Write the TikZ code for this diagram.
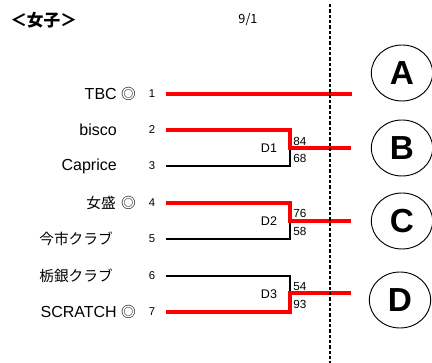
\documentclass[tikz,border=0pt]{standalone}
\usepackage{fontspec}
\setmainfont{Liberation Sans}
\newfontfamily\jpfont{Noto Sans CJK JP}
\usetikzlibrary{shapes.geometric}

\tikzset{
  team/.style={anchor=east, inner sep=0pt, font=\fontsize{12}{14}\selectfont},
  jteam/.style={anchor=east, inner sep=0pt, font=\jpfont\fontsize{11}{13}\selectfont},
  dmark/.style={inner sep=0pt, font=\jpfont\fontsize{11}{13}\selectfont},
  num/.style={inner sep=0pt, font=\fontsize{8.5}{10}\selectfont},
  score/.style={anchor=west, inner sep=0pt, font=\fontsize{8.8}{10}\selectfont},
  game/.style={inner sep=0pt, font=\fontsize{9.4}{11}\selectfont},
  seed/.style={draw, ellipse, line width=0.7pt, minimum width=46pt, minimum height=42pt,
    inner sep=0pt, font=\bfseries\fontsize{25}{28}\selectfont},
  win/.style={draw=red, line width=2.3pt},
  lose/.style={draw=black, line width=1.5pt}
}

\begin{document}
\begin{tikzpicture}[x=0.75pt, y=-0.75pt]
  \useasboundingbox (0,0) rectangle (432,363);
  \node[anchor=west, inner sep=0pt, font=\jpfont\bfseries\fontsize{12.5}{14}\selectfont] (title) at (10,20) {＜女子＞};
  \node[inner sep=0pt, font=\jpfont\fontsize{9.5}{11}\selectfont] (date) at (248,20) {9/1};

  % teams
  \node[team] (t1) at (117,94) {TBC};
  \node[team] (t2) at (117,130) {bisco};
  \node[team] (t3) at (117,166) {Caprice};
  \node[jteam] (t4) at (116,203) {女盛};
  \node[jteam] (t5) at (113,239) {今市クラブ};
  \node[jteam] (t6) at (113,276) {栃銀クラブ};
  \node[team] (t7) at (117,312) {SCRATCH};
  \node[dmark] (m1) at (128.5,94) {◎};
  \node[dmark] (m4) at (128.5,203) {◎};
  \node[dmark] (m7) at (128.5,312) {◎};
  \foreach \i/\y in {1/94,2/130,3/166,4/203,5/239,6/276,7/312}{
    \node[num] (n\i) at (152,\y) {\i};
    \coordinate (s\i) at (166,\y);
  }

  % brackets
  \coordinate (j1) at (290,148);
  \coordinate (j2) at (290,221);
  \coordinate (j3) at (290,293);
  \coordinate (e0) at (352,94);
  \coordinate (e1) at (351,148);
  \coordinate (e2) at (351,221);
  \coordinate (e3) at (351,293);
  \draw[lose] (s3) -| (j1);
  \draw[lose] (s5) -| (j2);
  \draw[lose] (s6) -| (j3);
  \draw[win] (s1) -- (e0);
  \draw[win] (s2) -| (j1) -- (e1);
  \draw[win] (s4) -| (j2) -- (e2);
  \draw[win] (s7) -| (j3) -- (e3);

  \node[game] (d1) at (269,148) {D1};
  \node[game] (d2) at (269,221) {D2};
  \node[game] (d3) at (269,294) {D3};
  \node[score] (p1) at (293,141) {84};
  \node[score] (q1) at (293,158) {68};
  \node[score] (p2) at (293,213) {76};
  \node[score] (q2) at (293,231) {58};
  \node[score] (p3) at (293,287) {54};
  \node[score] (q3) at (293,304) {93};

  % divider
  \coordinate (dtop) at (330,4);
  \coordinate (dbot) at (330,363);
  \draw[line width=1.5pt, dash pattern=on 2.4pt off 1.6pt] (dtop) -- (dbot);

  \node[seed] (A) at (402,73) {A};
  \node[seed] (B) at (402,148) {B};
  \node[seed] (C) at (402,221) {C};
  \node[seed] (D) at (400,300) {D};
\end{tikzpicture}
\end{document}
